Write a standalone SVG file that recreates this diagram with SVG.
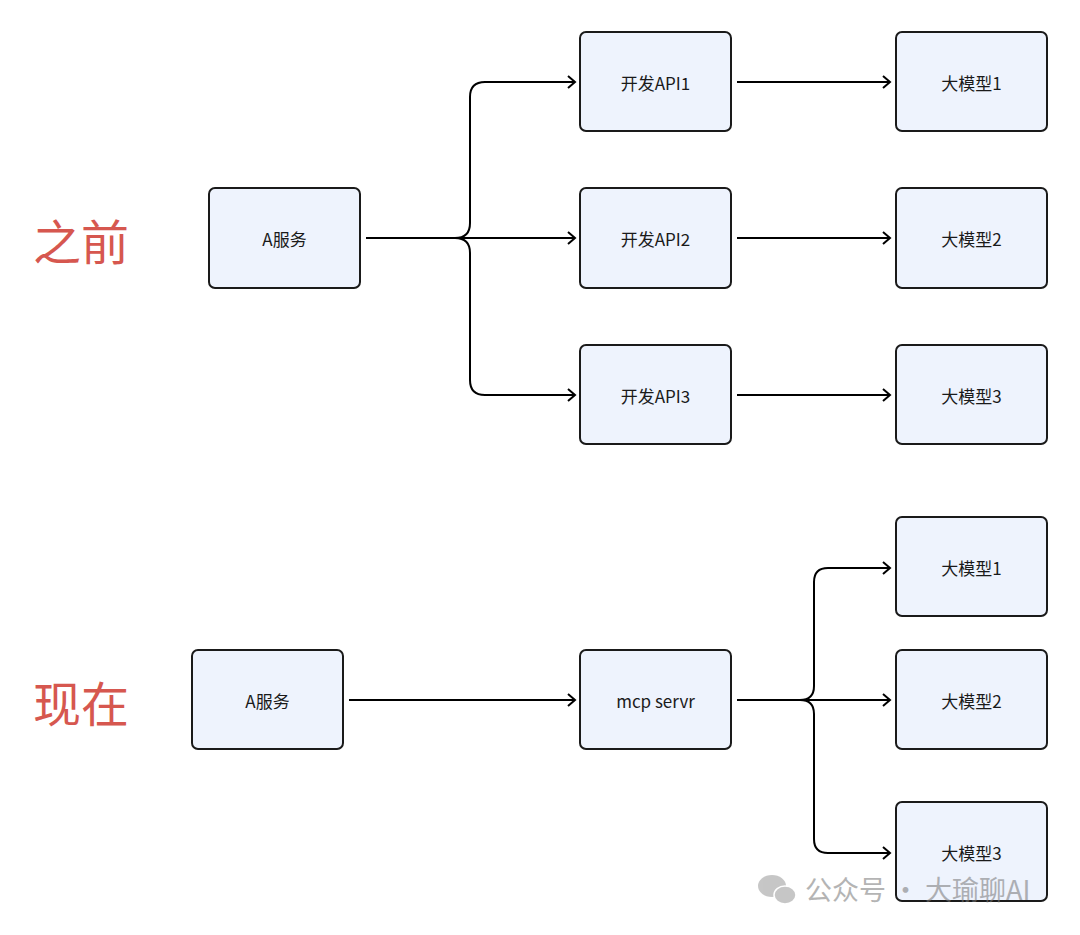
<svg xmlns="http://www.w3.org/2000/svg" width="1080" height="935" viewBox="0 0 1080 935">
<style>
.n rect{fill:#eef3fd;stroke:#1a1a1a;stroke-width:2}
.n text{font-family:"Noto Sans CJK SC","Noto Sans",sans-serif;font-size:17px;fill:#1a1a1a;text-anchor:middle;dominant-baseline:central}
.c path{fill:none;stroke:#000;stroke-width:2;marker-end:url(#a)}
.t{font-family:"Noto Sans CJK SC",sans-serif;font-size:48px;fill:#d6574f}
</style>
<defs><marker id="a" markerWidth="14" markerHeight="14" refX="10" refY="7" orient="auto" markerUnits="userSpaceOnUse"><path d="M3,1 L10,7 L3,13" fill="none" stroke="#000" stroke-width="2"/></marker></defs>
<rect width="1080" height="935" fill="#fff"/>
<text class="t" x="33" y="260">之前</text>
<text class="t" x="33" y="722">现在</text>
<g class="c">
<path d="M366,238 H575"/>
<path d="M366,238 H455 Q470,238 470,223 V97 Q470,82 485,82 H575"/>
<path d="M366,238 H455 Q470,238 470,253 V380 Q470,395 485,395 H575"/>
<path d="M737,82 H890"/><path d="M737,238 H890"/><path d="M737,395 H890"/>
<path d="M349,700 H575"/>
<path d="M737,700 H890"/>
<path d="M737,700 H800 Q814,700 814,686 V582 Q814,568 828,568 H890"/>
<path d="M737,700 H800 Q814,700 814,714 V839 Q814,853 828,853 H890"/>
</g>
<g id="a1" class="n"><rect x="209" y="188" width="151" height="100" rx="6"/><text x="284.5" y="238">A服务</text></g>
<g id="p1" class="n"><rect x="580" y="32" width="151" height="99" rx="6"/><text x="655.5" y="82">开发API1</text></g>
<g id="p2" class="n"><rect x="580" y="188" width="151" height="100" rx="6"/><text x="655.5" y="238">开发API2</text></g>
<g id="p3" class="n"><rect x="580" y="345" width="151" height="99" rx="6"/><text x="655.5" y="395">开发API3</text></g>
<g id="m1" class="n"><rect x="896" y="32" width="151" height="99" rx="6"/><text x="971.5" y="82">大模型1</text></g>
<g id="m2" class="n"><rect x="896" y="188" width="151" height="100" rx="6"/><text x="971.5" y="238">大模型2</text></g>
<g id="m3" class="n"><rect x="896" y="345" width="151" height="99" rx="6"/><text x="971.5" y="395">大模型3</text></g>
<g id="a2" class="n"><rect x="192" y="650" width="151" height="99" rx="6"/><text x="267.5" y="700">A服务</text></g>
<g id="mcp" class="n"><rect x="580" y="650" width="151" height="99" rx="6"/><text x="655.5" y="700">mcp servr</text></g>
<g id="b1" class="n"><rect x="896" y="517" width="151" height="99" rx="6"/><text x="971.5" y="567">大模型1</text></g>
<g id="b2" class="n"><rect x="896" y="650" width="151" height="99" rx="6"/><text x="971.5" y="700">大模型2</text></g>
<g id="b3" class="n"><rect x="896" y="802" width="151" height="99" rx="6"/><text x="971.5" y="852">大模型3</text></g>
<g opacity="0.55">
<ellipse cx="772" cy="886" rx="14" ry="11" fill="#999"/><ellipse cx="785" cy="895" rx="11" ry="9" fill="#999" stroke="#fff" stroke-width="1.5"/>
<text x="805" y="900" font-family="Noto Sans CJK SC,sans-serif" font-size="27" fill="#777">公众号 · 大瑜聊AI</text>
</g>
</svg>
